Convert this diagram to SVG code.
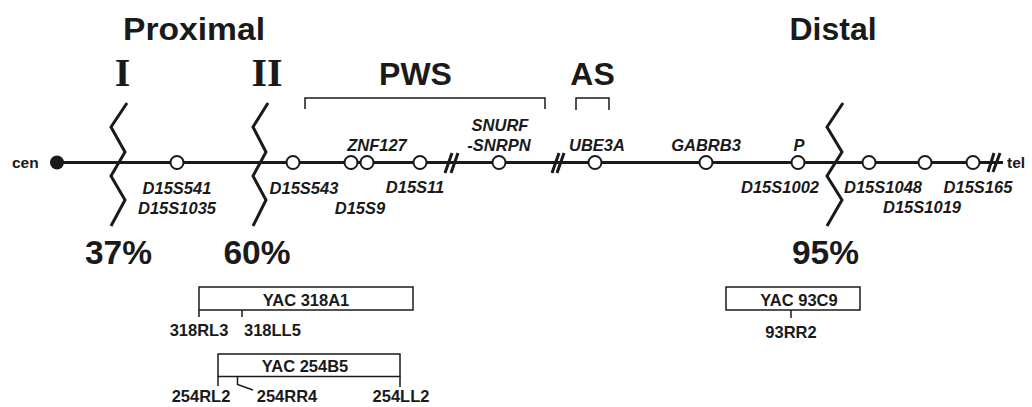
<svg xmlns="http://www.w3.org/2000/svg" width="1032" height="407" viewBox="0 0 1032 407">
<style>
.hdr{font-family:"Liberation Sans",Arial,sans-serif;font-weight:bold;font-size:32px;fill:#1a1a1a}
.rom{font-family:"Liberation Serif","Times New Roman",serif;font-weight:bold;font-size:40px;fill:#1a1a1a}
.pct{font-family:"Liberation Sans",Arial,sans-serif;font-weight:bold;font-size:33.5px;fill:#1a1a1a}
.gene{font-family:"Liberation Sans",Arial,sans-serif;font-weight:bold;font-style:italic;font-size:16.5px;fill:#1a1a1a}
.lbl{font-family:"Liberation Sans",Arial,sans-serif;font-weight:bold;font-size:16.5px;fill:#1a1a1a}
.end{font-family:"Liberation Sans",Arial,sans-serif;font-weight:bold;font-size:15.5px;fill:#1a1a1a}
.chrom{stroke:#1a1a1a;stroke-width:3;fill:none}
.zig{stroke:#1a1a1a;stroke-width:3;fill:none;stroke-linejoin:miter}
.brk{stroke:#1a1a1a;stroke-width:3;fill:none}
.mk{fill:#fff;stroke:#1a1a1a;stroke-width:2}
.brkt{stroke:#1a1a1a;stroke-width:1.5;fill:none}
.box{fill:#fff;stroke:#1a1a1a;stroke-width:1.5}
.tick{stroke:#1a1a1a;stroke-width:1.5;fill:none}
</style>
<rect width="1032" height="407" fill="#fff"/>

<!-- headers -->
<g id="headers">
<text class="hdr" x="123" y="40" textLength="142" lengthAdjust="spacingAndGlyphs">Proximal</text>
<text class="hdr" x="833" y="40" text-anchor="middle">Distal</text>
<text class="rom" x="122.5" y="86" text-anchor="middle">I</text>
<text class="rom" x="267" y="86" text-anchor="middle">II</text>
</g>

<!-- connectors: chromosome line, breaks, brackets -->
<g id="connectors">
<line class="chrom" x1="57" y1="162.5" x2="1003" y2="162.5"/>
<path class="brk" d="M445,173 L452,153 M451,173 L458,153"/>
<path class="brk" d="M552,173 L559,153 M557,173 L564,153"/>
<path class="brk" d="M988,172 L994,153 M993,172 L1000,153"/>
<path class="brkt" d="M305,109 V98 H545 V109"/>
<path class="brkt" d="M576,110 V98 H609 V110"/>
</g>

<g id="pws">
<text class="hdr" x="415.5" y="85" text-anchor="middle">PWS</text>
</g>
<g id="as">
<text class="hdr" x="592.5" y="85" text-anchor="middle">AS</text>
</g>

<!-- breakpoints -->
<g id="bp1">
<path class="zig" d="M127,103 L111,127 L125,152 L111,176 L125,200 L111,226"/>
<text class="pct" x="118.5" y="264" text-anchor="middle">37%</text>
</g>
<g id="bp2">
<path class="zig" d="M268,103 L253,127 L266,152 L253,176 L266,200 L253,226"/>
<text class="pct" x="257" y="264" text-anchor="middle">60%</text>
</g>
<g id="bp3">
<path class="zig" d="M843,103 L827,127 L842,152 L827,176 L842,200 L827,226"/>
<text class="pct" x="825.5" y="264" text-anchor="middle">95%</text>
</g>

<!-- ends -->
<g id="cen">
<circle cx="57" cy="162.5" r="7" fill="#1a1a1a"/>
<text class="end" x="12" y="168">cen</text>
</g>
<g id="tel">
<text class="end" x="1007" y="168">tel</text>
</g>

<!-- markers -->
<g id="m-D15S541">
<circle class="mk" cx="177" cy="162.5" r="6.5"/>
<text class="gene" x="177" y="194" text-anchor="middle">D15S541</text>
<text class="gene" x="177" y="214" text-anchor="middle">D15S1035</text>
</g>
<g id="m-D15S543">
<circle class="mk" cx="293" cy="162.5" r="6.5"/>
<text class="gene" x="304" y="194" text-anchor="middle">D15S543</text>
</g>
<g id="m-ZNF127">
<circle class="mk" cx="351" cy="162.5" r="6.5"/>
<circle class="mk" cx="367" cy="162.5" r="6.5"/>
<text class="gene" x="377" y="151" text-anchor="middle">ZNF127</text>
<text class="gene" x="360" y="214" text-anchor="middle">D15S9</text>
</g>
<g id="m-D15S11">
<circle class="mk" cx="420" cy="162.5" r="6.5"/>
<text class="gene" x="415" y="193" text-anchor="middle">D15S11</text>
</g>
<g id="m-SNURF">
<circle class="mk" cx="499" cy="162.5" r="6.5"/>
<text class="gene" x="500" y="131" text-anchor="middle">SNURF</text>
<text class="gene" x="499" y="151" text-anchor="middle">-SNRPN</text>
</g>
<g id="m-UBE3A">
<circle class="mk" cx="595" cy="162.5" r="6.5"/>
<text class="gene" x="597" y="151" text-anchor="middle">UBE3A</text>
</g>
<g id="m-GABRB3">
<circle class="mk" cx="706" cy="162.5" r="6.5"/>
<text class="gene" x="706" y="151" text-anchor="middle">GABRB3</text>
</g>
<g id="m-P">
<circle class="mk" cx="798" cy="162.5" r="6.5"/>
<text class="gene" x="799" y="151" text-anchor="middle">P</text>
<text class="gene" x="780" y="193" text-anchor="middle">D15S1002</text>
</g>
<g id="m-D15S1048">
<circle class="mk" cx="869" cy="162.5" r="6.5"/>
<text class="gene" x="883" y="193" text-anchor="middle">D15S1048</text>
</g>
<g id="m-D15S1019">
<circle class="mk" cx="925" cy="162.5" r="6.5"/>
<text class="gene" x="922" y="213" text-anchor="middle">D15S1019</text>
</g>
<g id="m-D15S165">
<circle class="mk" cx="973" cy="162.5" r="6.5"/>
<text class="gene" x="978" y="193" text-anchor="middle">D15S165</text>
</g>

<!-- YACs -->
<g id="yac-318A1">
<rect class="box" x="199" y="287" width="214" height="23"/>
<text class="lbl" x="306" y="305.5" text-anchor="middle">YAC 318A1</text>
<path class="tick" d="M199,310 V317 M242,310 V317"/>
<text class="lbl" x="199" y="336" text-anchor="middle">318RL3</text>
<text class="lbl" x="244" y="336">318LL5</text>
</g>
<g id="yac-254B5">
<rect class="box" x="218" y="354" width="182" height="22.5"/>
<text class="lbl" x="305" y="372" text-anchor="middle">YAC 254B5</text>
<path class="tick" d="M218,376.5 V386 M400,376.5 V387 M237.5,376.5 V384.5 L253,390"/>
<text class="lbl" x="201" y="402" text-anchor="middle">254RL2</text>
<text class="lbl" x="287" y="402" text-anchor="middle">254RR4</text>
<text class="lbl" x="401" y="402" text-anchor="middle">254LL2</text>
</g>
<g id="yac-93C9">
<rect class="box" x="726" y="287" width="134" height="23"/>
<text class="lbl" x="799" y="305.5" text-anchor="middle">YAC 93C9</text>
<path class="tick" d="M791,310 V318"/>
<text class="lbl" x="791" y="338" text-anchor="middle">93RR2</text>
</g>
</svg>
